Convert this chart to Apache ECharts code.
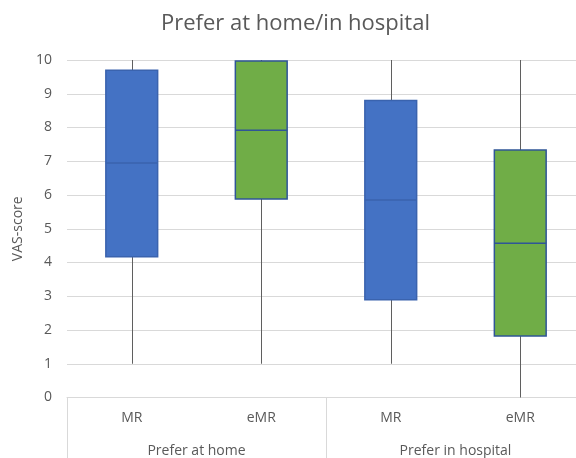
<!DOCTYPE html>
<html>
<head>
<meta charset="utf-8">
<script src="https://cdn.jsdelivr.net/npm/echarts@6/dist/echarts.min.js"></script>
<style>html,body{margin:0;padding:0;background:#fff}#c{width:576px;height:458px}</style>
</head>
<body>
<div id="c"></div>
<script>
const categories = ['MR', 'eMR', 'MR', 'eMR'];
const groups = ['Prefer at home', 'Prefer in hospital'];
const whiskerMin = [1, 1, 1, 0];
const quartile1 = [4.17, 5.88, 2.9, 1.82];
const median = [6.95, 7.92, 5.85, 4.57];
const quartile3 = [9.7, 9.97, 8.8, 7.33];
const whiskerMax = [10, 10, 10, 10];
const yTicks = [0, 1, 2, 3, 4, 5, 6, 7, 8, 9, 10];

const fills = ['#4472C4', '#70AD47', '#4472C4', '#70AD47'];
const strokes = ['#3A63AE', '#2F5597', '#3A63AE', '#2F5597'];
const FONT = 'Open Sans';

const data = categories.map((c, i) => [i, whiskerMin[i], quartile1[i], median[i], quartile3[i], whiskerMax[i]]);

function renderItem(params, api) {
  const x = api.value(0);
  const lo = api.coord([x, api.value(1)]);
  const q1 = api.coord([x, api.value(2)]);
  const md = api.coord([x, api.value(3)]);
  const q3 = api.coord([x, api.value(4)]);
  const hi = api.coord([x, api.value(5)]);
  const w = api.size([1, 0])[0] * 0.4;
  const i = params.dataIndex;
  const cx = Math.round(lo[0]) + 0.5;
  return {
    type: 'group',
    children: [
      { type: 'line', shape: { x1: cx, y1: lo[1], x2: cx, y2: hi[1] }, style: { stroke: '#5f5f5f', lineWidth: 1 } },
      { type: 'rect', shape: { x: lo[0] - w / 2, y: q3[1], width: w, height: q1[1] - q3[1] }, style: { fill: fills[i], stroke: strokes[i], lineWidth: 1.5 } },
      { type: 'line', shape: { x1: lo[0] - w / 2, y1: md[1], x2: lo[0] + w / 2, y2: md[1] }, style: { stroke: strokes[i], lineWidth: 1.5 } }
    ]
  };
}

const chart = echarts.init(document.getElementById('c'), null, { renderer: 'canvas' });
chart.setOption({
  animation: false,
  backgroundColor: '#fff',
  title: {
    text: 'Prefer at home/in hospital',
    left: 156,
    top: 8,
    textStyle: { fontFamily: FONT, fontSize: 22, fontWeight: 'normal', color: '#595959' }
  },
  grid: { left: 67, width: 518, top: 60, bottom: 60.5, containLabel: false, outerBoundsMode: 'none' },
  xAxis: [
    {
      type: 'category',
      data: categories,
      position: 'bottom',
      axisLine: { show: true, lineStyle: { color: '#d9d9d9', width: 1 } },
      axisTick: { show: true, interval: (idx) => idx % 2 === 0, length: 62, lineStyle: { color: '#d9d9d9', width: 1 } },
      axisLabel: { interval: 0, margin: 14, fontFamily: FONT, fontSize: 14, color: '#595959' },
      splitLine: { show: false }
    },
    {
      type: 'category',
      data: groups,
      position: 'bottom',
      offset: 40,
      axisLine: { show: false },
      axisTick: { show: false },
      axisLabel: { interval: 0, margin: 7, fontFamily: FONT, fontSize: 14, color: '#595959' },
      splitLine: { show: false }
    }
  ],
  yAxis: {
    type: 'value',
    min: yTicks[0],
    max: yTicks[yTicks.length - 1],
    interval: 1,
    name: 'VAS-score',
    nameLocation: 'middle',
    nameRotate: 90,
    nameGap: 40,
    nameTextStyle: { fontFamily: FONT, fontSize: 14, color: '#595959' },
    axisLine: { show: false },
    axisTick: { show: false },
    axisLabel: { margin: 15, fontFamily: FONT, fontSize: 14, color: '#595959' },
    splitLine: { show: true, lineStyle: { color: '#d9d9d9', width: 1 } }
  },
  series: [{
    type: 'custom',
    xAxisIndex: 0,
    yAxisIndex: 0,
    renderItem: renderItem,
    encode: { x: 0, y: [1, 2, 3, 4, 5] },
    data: data,
    clip: false
  }]
});
</script>
</body>
</html>
